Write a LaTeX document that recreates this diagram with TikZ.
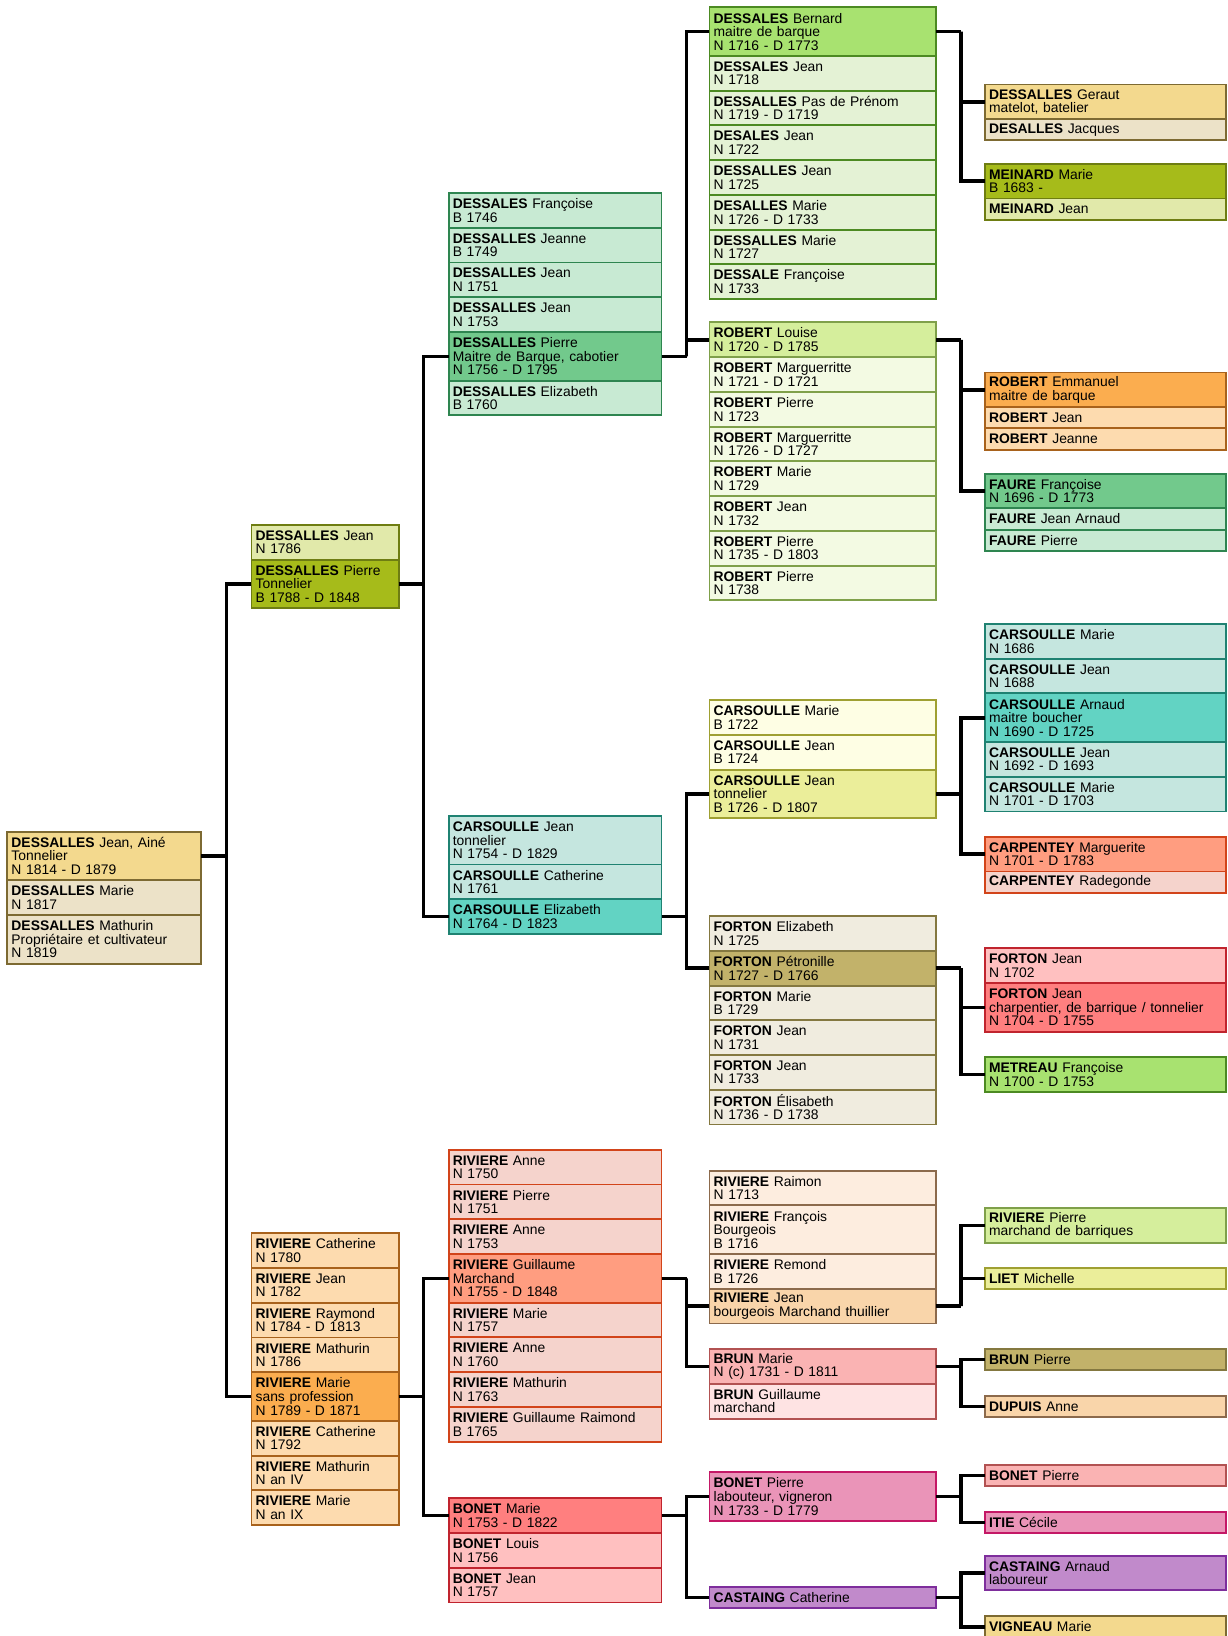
\documentclass[tikz,border=0pt]{standalone}
\usepackage{fontspec}
\setmainfont{Liberation Sans}
\usepackage{tikz}
\usetikzlibrary{positioning}

\definecolor{sableF}{HTML}{F3D98E}
\definecolor{sableL}{HTML}{ECE2C8}
\definecolor{sableB}{HTML}{7D6A32}
\definecolor{oliveF}{HTML}{A6BB1A}
\definecolor{oliveL}{HTML}{E1E9AA}
\definecolor{oliveB}{HTML}{6E7D12}
\definecolor{vertF}{HTML}{72C98C}
\definecolor{vertL}{HTML}{C8EAD3}
\definecolor{vertB}{HTML}{2E8550}
\definecolor{pommeF}{HTML}{A8E270}
\definecolor{pommeL}{HTML}{E4F2D5}
\definecolor{pommeB}{HTML}{4C8A22}
\definecolor{anisF}{HTML}{D5EE9C}
\definecolor{anisL}{HTML}{F3FAE3}
\definecolor{anisB}{HTML}{7FA04A}
\definecolor{orangeF}{HTML}{FBAD4F}
\definecolor{orangeL}{HTML}{FDDBAF}
\definecolor{orangeB}{HTML}{A8621C}
\definecolor{turqF}{HTML}{62D3C3}
\definecolor{turqL}{HTML}{C5E6DF}
\definecolor{turqB}{HTML}{1F8272}
\definecolor{citronF}{HTML}{EBEE9A}
\definecolor{citronL}{HTML}{FEFEE4}
\definecolor{citronB}{HTML}{9FA032}
\definecolor{kakiF}{HTML}{C2B26A}
\definecolor{kakiL}{HTML}{F0ECDF}
\definecolor{kakiB}{HTML}{847840}
\definecolor{saumonF}{HTML}{FF9D80}
\definecolor{saumonL}{HTML}{F5D3CC}
\definecolor{saumonB}{HTML}{D2441A}
\definecolor{rougeF}{HTML}{FF7F7F}
\definecolor{rougeL}{HTML}{FFC0C0}
\definecolor{rougeB}{HTML}{C0242E}
\definecolor{pecheF}{HTML}{F9D5AA}
\definecolor{pecheL}{HTML}{FDEDDF}
\definecolor{pecheB}{HTML}{8C6A4C}
\definecolor{roseF}{HTML}{FAB3B3}
\definecolor{roseL}{HTML}{FEE3E3}
\definecolor{roseB}{HTML}{B25252}
\definecolor{fuchsiaF}{HTML}{EA94B8}
\definecolor{fuchsiaB}{HTML}{C41866}
\definecolor{mauveF}{HTML}{C18ACB}
\definecolor{mauveB}{HTML}{7E2E9C}

\newcommand{\nom}[1]{\textbf{#1}}

\tikzset{
  pers/.style={draw, line width=1.8pt, anchor=north west, inner xsep=4pt, inner ysep=0pt, outer sep=0pt, align=left, font=\fontsize{13.3pt}{13pt}\selectfont},
  col1/.style={text width=178pt},
  col2/.style={text width=133pt},
  col3/.style={text width=196pt},
  col4/.style={text width=209pt},
  col5/.style={text width=223pt},
  h1/.style={minimum height=20.3pt},
  h2/.style={minimum height=33.3pt},
  h3/.style={minimum height=46.6pt},
  link/.style={line width=3.4pt, draw=black},
  sable/.style={fill=sableL, draw=sableB}, sableP/.style={fill=sableF, draw=sableB},
  olive/.style={fill=oliveL, draw=oliveB}, oliveP/.style={fill=oliveF, draw=oliveB},
  vert/.style={fill=vertL, draw=vertB}, vertP/.style={fill=vertF, draw=vertB},
  pomme/.style={fill=pommeL, draw=pommeB}, pommeP/.style={fill=pommeF, draw=pommeB},
  anis/.style={fill=anisL, draw=anisB}, anisP/.style={fill=anisF, draw=anisB},
  orange/.style={fill=orangeL, draw=orangeB}, orangeP/.style={fill=orangeF, draw=orangeB},
  turq/.style={fill=turqL, draw=turqB}, turqP/.style={fill=turqF, draw=turqB},
  citron/.style={fill=citronL, draw=citronB}, citronP/.style={fill=citronF, draw=citronB},
  kaki/.style={fill=kakiL, draw=kakiB}, kakiP/.style={fill=kakiF, draw=kakiB},
  saumon/.style={fill=saumonL, draw=saumonB}, saumonP/.style={fill=saumonF, draw=saumonB},
  rouge/.style={fill=rougeL, draw=rougeB}, rougeP/.style={fill=rougeF, draw=rougeB},
  peche/.style={fill=pecheL, draw=pecheB}, pecheP/.style={fill=pecheF, draw=pecheB},
  rose/.style={fill=roseL, draw=roseB}, roseP/.style={fill=roseF, draw=roseB},
  fuchsia/.style={fill=fuchsiaF, draw=fuchsiaB},
  mauve/.style={fill=mauveF, draw=mauveB}
}

\begin{document}
\begin{tikzpicture}[x=1pt, y=-1pt]
\useasboundingbox (0,0) rectangle (1176,1568);

\node[pers,col1,h3,sableP] (aine) at (7,797) {\nom{DESSALLES} Jean, Ainé\\Tonnelier\\N 1814 - D 1879};
\node[pers,col1,h2,sable,below=0pt of aine] (marieD17) {\nom{DESSALLES} Marie\\N 1817};
\node[pers,col1,h3,sable,below=0pt of marieD17] (mathurin) {\nom{DESSALLES} Mathurin\\Propriétaire et cultivateur\\N 1819};

\node[pers,col2,h2,olive] (jeanD86) at (241,503) {\nom{DESSALLES} Jean\\N 1786};
\node[pers,col2,h3,oliveP,below=0pt of jeanD86] (pierreT) {\nom{DESSALLES} Pierre\\Tonnelier\\B 1788 - D 1848};

\node[pers,col2,h2,orange] (catR80) at (241,1182) {\nom{RIVIERE} Catherine\\N 1780};
\node[pers,col2,h2,orange,below=0pt of catR80] (jeanR82) {\nom{RIVIERE} Jean\\N 1782};
\node[pers,col2,h2,orange,below=0pt of jeanR82] (raymondR) {\nom{RIVIERE} Raymond\\N 1784 - D 1813};
\node[pers,col2,h2,orange,below=0pt of raymondR] (mathurinR86) {\nom{RIVIERE} Mathurin\\N 1786};
\node[pers,col2,h3,orangeP,below=0pt of mathurinR86] (marieR) {\nom{RIVIERE} Marie\\sans profession\\N 1789 - D 1871};
\node[pers,col2,h2,orange,below=0pt of marieR] (catR92) {\nom{RIVIERE} Catherine\\N 1792};
\node[pers,col2,h2,orange,below=0pt of catR92] (mathurinR4) {\nom{RIVIERE} Mathurin\\N an IV};
\node[pers,col2,h2,orange,below=0pt of mathurinR4] (marieR9) {\nom{RIVIERE} Marie\\N an IX};

\node[pers,col3,h2,vert] (francoiseD46) at (430,185) {\nom{DESSALES} Françoise\\B 1746};
\node[pers,col3,h2,vert,below=0pt of francoiseD46] (jeanneD49) {\nom{DESSALLES} Jeanne\\B 1749};
\node[pers,col3,h2,vert,below=0pt of jeanneD49] (jeanD51) {\nom{DESSALLES} Jean\\N 1751};
\node[pers,col3,h2,vert,below=0pt of jeanD51] (jeanD53) {\nom{DESSALLES} Jean\\N 1753};
\node[pers,col3,h3,vertP,below=0pt of jeanD53] (pierreMB) {\nom{DESSALLES} Pierre\\Maitre de Barque, cabotier\\N 1756 - D 1795};
\node[pers,col3,h2,vert,below=0pt of pierreMB] (elizD60) {\nom{DESSALLES} Elizabeth\\B 1760};

\node[pers,col3,h3,turq] (jeanC) at (430,782) {\nom{CARSOULLE} Jean\\tonnelier\\N 1754 - D 1829};
\node[pers,col3,h2,turq,below=0pt of jeanC] (catC61) {\nom{CARSOULLE} Catherine\\N 1761};
\node[pers,col3,h2,turqP,below=0pt of catC61] (elizC) {\nom{CARSOULLE} Elizabeth\\N 1764 - D 1823};

\node[pers,col3,h2,saumon] (anneR50) at (430,1102) {\nom{RIVIERE} Anne\\N 1750};
\node[pers,col3,h2,saumon,below=0pt of anneR50] (pierreR51) {\nom{RIVIERE} Pierre\\N 1751};
\node[pers,col3,h2,saumon,below=0pt of pierreR51] (anneR53) {\nom{RIVIERE} Anne\\N 1753};
\node[pers,col3,h3,saumonP,below=0pt of anneR53] (guillaumeR) {\nom{RIVIERE} Guillaume\\Marchand\\N 1755 - D 1848};
\node[pers,col3,h2,saumon,below=0pt of guillaumeR] (marieR57) {\nom{RIVIERE} Marie\\N 1757};
\node[pers,col3,h2,saumon,below=0pt of marieR57] (anneR60) {\nom{RIVIERE} Anne\\N 1760};
\node[pers,col3,h2,saumon,below=0pt of anneR60] (mathurinR63) {\nom{RIVIERE} Mathurin\\N 1763};
\node[pers,col3,h2,saumon,below=0pt of mathurinR63] (guillRaimond) {\nom{RIVIERE} Guillaume Raimond\\B 1765};

\node[pers,col3,h2,rougeP] (marieB) at (430,1436) {\nom{BONET} Marie\\N 1753 - D 1822};
\node[pers,col3,h2,rouge,below=0pt of marieB] (louisB) {\nom{BONET} Louis\\N 1756};
\node[pers,col3,h2,rouge,below=0pt of louisB] (jeanB) {\nom{BONET} Jean\\N 1757};

\node[pers,col4,h3,pommeP] (bernard) at (680,7) {\nom{DESSALES} Bernard\\maitre de barque\\N 1716 - D 1773};
\node[pers,col4,h2,pomme,below=0pt of bernard] (jeanD18) {\nom{DESSALES} Jean\\N 1718};
\node[pers,col4,h2,pomme,below=0pt of jeanD18] (pasPrenom) {\nom{DESSALLES} Pas de Prénom\\N 1719 - D 1719};
\node[pers,col4,h2,pomme,below=0pt of pasPrenom] (jeanD22) {\nom{DESALES} Jean\\N 1722};
\node[pers,col4,h2,pomme,below=0pt of jeanD22] (jeanD25) {\nom{DESSALLES} Jean\\N 1725};
\node[pers,col4,h2,pomme,below=0pt of jeanD25] (marieD26) {\nom{DESALLES} Marie\\N 1726 - D 1733};
\node[pers,col4,h2,pomme,below=0pt of marieD26] (marieD27) {\nom{DESSALLES} Marie\\N 1727};
\node[pers,col4,h2,pomme,below=0pt of marieD27] (francoiseD33) {\nom{DESSALE} Françoise\\N 1733};

\node[pers,col4,h2,anisP] (louiseR) at (680,309) {\nom{ROBERT} Louise\\N 1720 - D 1785};
\node[pers,col4,h2,anis,below=0pt of louiseR] (marguerR21) {\nom{ROBERT} Marguerritte\\N 1721 - D 1721};
\node[pers,col4,h2,anis,below=0pt of marguerR21] (pierreR23) {\nom{ROBERT} Pierre\\N 1723};
\node[pers,col4,h2,anis,below=0pt of pierreR23] (marguerR26) {\nom{ROBERT} Marguerritte\\N 1726 - D 1727};
\node[pers,col4,h2,anis,below=0pt of marguerR26] (marieR29) {\nom{ROBERT} Marie\\N 1729};
\node[pers,col4,h2,anis,below=0pt of marieR29] (jeanR32) {\nom{ROBERT} Jean\\N 1732};
\node[pers,col4,h2,anis,below=0pt of jeanR32] (pierreR35) {\nom{ROBERT} Pierre\\N 1735 - D 1803};
\node[pers,col4,h2,anis,below=0pt of pierreR35] (pierreR38) {\nom{ROBERT} Pierre\\N 1738};

\node[pers,col4,h2,citron] (marieC22) at (680,671) {\nom{CARSOULLE} Marie\\B 1722};
\node[pers,col4,h2,citron,below=0pt of marieC22] (jeanC24) {\nom{CARSOULLE} Jean\\B 1724};
\node[pers,col4,h3,citronP,below=0pt of jeanC24] (jeanCT) {\nom{CARSOULLE} Jean\\tonnelier\\B 1726 - D 1807};

\node[pers,col4,h2,kaki] (elizF25) at (680,878) {\nom{FORTON} Elizabeth\\N 1725};
\node[pers,col4,h2,kakiP,below=0pt of elizF25] (petronille) {\nom{FORTON} Pétronille\\N 1727 - D 1766};
\node[pers,col4,h2,kaki,below=0pt of petronille] (marieF29) {\nom{FORTON} Marie\\B 1729};
\node[pers,col4,h2,kaki,below=0pt of marieF29] (jeanF31) {\nom{FORTON} Jean\\N 1731};
\node[pers,col4,h2,kaki,below=0pt of jeanF31] (jeanF33) {\nom{FORTON} Jean\\N 1733};
\node[pers,col4,h2,kaki,below=0pt of jeanF33] (elisF36) {\nom{FORTON} Élisabeth\\N 1736 - D 1738};

\node[pers,col4,h2,peche] (raimon) at (680,1122) {\nom{RIVIERE} Raimon\\N 1713};
\node[pers,col4,h3,peche,below=0pt of raimon] (francoisR) {\nom{RIVIERE} François\\Bourgeois\\B 1716};
\node[pers,col4,h2,peche,below=0pt of francoisR] (remond) {\nom{RIVIERE} Remond\\B 1726};
\node[pers,col4,h2,pecheP,below=0pt of remond] (jeanRB) {\nom{RIVIERE} Jean\\bourgeois Marchand thuillier};

\node[pers,col4,h2,roseP] (marieBr) at (680,1293) {\nom{BRUN} Marie\\N (c) 1731 - D 1811};
\node[pers,col4,h2,rose,below=0pt of marieBr] (guillaumeBr) {\nom{BRUN} Guillaume\\marchand};

\node[pers,col4,h3,fuchsia] (pierreBo) at (680,1411) {\nom{BONET} Pierre\\labouteur, vigneron\\N 1733 - D 1779};
\node[pers,col4,h1,mauve] (catCa) at (680,1521) {\nom{CASTAING} Catherine};

\node[pers,col5,h2,sableP] (geraut) at (944,81) {\nom{DESSALLES} Geraut\\matelot, batelier};
\node[pers,col5,h1,sable,below=0pt of geraut] (jacques) {\nom{DESALLES} Jacques};
\node[pers,col5,h2,oliveP] (marieMe) at (944,157) {\nom{MEINARD} Marie\\B 1683 -};
\node[pers,col5,h1,olive,below=0pt of marieMe] (jeanMe) {\nom{MEINARD} Jean};

\node[pers,col5,h2,orangeP] (emmanuel) at (944,357) {\nom{ROBERT} Emmanuel\\maitre de barque};
\node[pers,col5,h1,orange,below=0pt of emmanuel] (jeanRo) {\nom{ROBERT} Jean};
\node[pers,col5,h1,orange,below=0pt of jeanRo] (jeanneRo) {\nom{ROBERT} Jeanne};
\node[pers,col5,h2,vertP] (francoiseFa) at (944,454) {\nom{FAURE} Françoise\\N 1696 - D 1773};
\node[pers,col5,h1,vert,below=0pt of francoiseFa] (jeanFa) {\nom{FAURE} Jean Arnaud};
\node[pers,col5,h1,vert,below=0pt of jeanFa] (pierreFa) {\nom{FAURE} Pierre};

\node[pers,col5,h2,turq] (marieC86) at (944,598) {\nom{CARSOULLE} Marie\\N 1686};
\node[pers,col5,h2,turq,below=0pt of marieC86] (jeanC88) {\nom{CARSOULLE} Jean\\N 1688};
\node[pers,col5,h3,turqP,below=0pt of jeanC88] (arnaudC) {\nom{CARSOULLE} Arnaud\\maitre boucher\\N 1690 - D 1725};
\node[pers,col5,h2,turq,below=0pt of arnaudC] (jeanC92) {\nom{CARSOULLE} Jean\\N 1692 - D 1693};
\node[pers,col5,h2,turq,below=0pt of jeanC92] (marieC01) {\nom{CARSOULLE} Marie\\N 1701 - D 1703};
\node[pers,col5,h2,saumonP] (marguerite) at (944,802) {\nom{CARPENTEY} Marguerite\\N 1701 - D 1783};
\node[pers,col5,h1,saumon,below=0pt of marguerite] (radegonde) {\nom{CARPENTEY} Radegonde};

\node[pers,col5,h2,rouge] (jeanF02) at (944,909) {\nom{FORTON} Jean\\N 1702};
\node[pers,col5,h3,rougeP,below=0pt of jeanF02] (jeanF04) {\nom{FORTON} Jean\\charpentier, de barrique / tonnelier\\N 1704 - D 1755};
\node[pers,col5,h2,pommeP] (francoiseMe) at (944,1013) {\nom{METREAU} Françoise\\N 1700 - D 1753};

\node[pers,col5,h2,anisP] (pierreRi) at (944,1158) {\nom{RIVIERE} Pierre\\marchand de barriques};
\node[pers,col5,h1,citronP] (michelle) at (944,1215) {\nom{LIET} Michelle};
\node[pers,col5,h1,kakiP] (pierreBr) at (944,1293) {\nom{BRUN} Pierre};
\node[pers,col5,h1,pecheP] (anneDu) at (944,1338) {\nom{DUPUIS} Anne};
\node[pers,col5,h1,roseP] (pierreBo2) at (944,1404) {\nom{BONET} Pierre};
\node[pers,col5,h1,fuchsia] (cecile) at (944,1449) {\nom{ITIE} Cécile};
\node[pers,col5,h2,mauve] (arnaudCa) at (944,1491) {\nom{CASTAING} Arnaud\\laboureur};
\node[pers,col5,h1,sableP] (marieVi) at (944,1549) {\nom{VIGNEAU} Marie};

\foreach \e/\p/\m in {aine/pierreT/marieR, pierreT/pierreMB/elizC, marieR/guillaumeR/marieB,
    pierreMB/bernard/louiseR, elizC/jeanCT/petronille, guillaumeR/jeanRB/marieBr, marieB/pierreBo/catCa,
    bernard/geraut/marieMe, louiseR/emmanuel/francoiseFa, jeanCT/arnaudC/marguerite,
    petronille/jeanF04/francoiseMe, jeanRB/pierreRi/michelle, marieBr/pierreBr/anneDu,
    pierreBo/pierreBo2/cecile, catCa/arnaudCa/marieVi}
{
    \draw[link] (\p.west) -| ([xshift=24pt]\e.east) |- (\m.west);
    \draw[link] (\e.east) -- ++(24,0);
}
\end{tikzpicture}
\end{document}
